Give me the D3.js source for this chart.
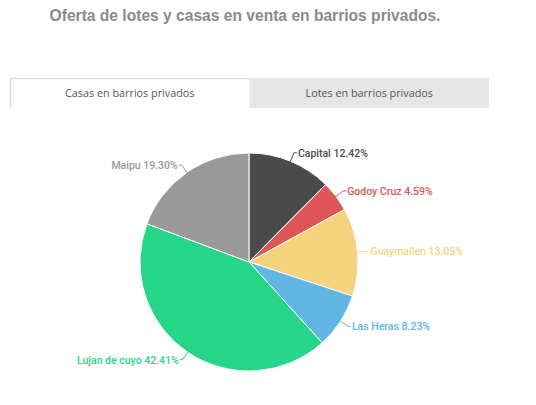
<!DOCTYPE html>
<html>
<head>
<meta charset="utf-8">
<script src="https://cdn.jsdelivr.net/npm/d3@7"></script>
<style>
  body { margin: 0; background: #fff; }
  svg { display: block; }
</style>
</head>
<body>
<script>
// data
var zonas = ["Capital", "Godoy Cruz", "Guaymallen", "Las Heras", "Lujan de cuyo", "Maipu"];
var porcentajes = [12.42, 4.59, 13.05, 8.23, 42.41, 19.30];
var colores = ["#4a4a4a", "#e05555", "#f3d47c", "#62b6e4", "#25d588", "#999999"];
var pestanas = ["Casas en barrios privados", "Lotes en barrios privados"];
var titulo = "Oferta de lotes y casas en venta en barrios privados.";

var width = 536, height = 405;

var svg = d3.select("body")
    .append("svg")
    .attr("width", width)
    .attr("height", height);

// title
svg.append("text")
    .attr("x", 245)
    .attr("y", 21)
    .attr("text-anchor", "middle")
    .style("font-family", "Liberation Sans, Arial, sans-serif")
    .style("font-weight", "bold")
    .style("font-size", "15.6px")
    .style("fill", "#8a8a8a")
    .text(titulo);

// tabs
var tabX = d3.scaleBand().domain(pestanas).range([10, 489]);
var tabs = svg.selectAll(".tab")
    .data(pestanas)
    .join("g")
    .attr("class", "tab");

tabs.append("rect")
    .attr("x", function(d) { return tabX(d); })
    .attr("y", 78)
    .attr("width", tabX.bandwidth())
    .attr("height", 30)
    .style("fill", function(d, i) { return i == 0 ? "#ffffff" : "#e6e6e6"; });

tabs.append("text")
    .attr("x", function(d) { return tabX(d) + tabX.bandwidth() / 2; })
    .attr("y", 97)
    .attr("text-anchor", "middle")
    .style("font-family", "Open Sans, sans-serif")
    .style("font-size", "10.8px")
    .style("fill", "#555")
    .text(function(d) { return d; });

// border around active tab (top, left)
svg.append("path")
    .attr("d", "M10.5,108 V78.5 H" + (tabX(pestanas[1])) )
    .style("fill", "none")
    .style("stroke", "#dddddd")
    .style("stroke-width", 1.5);

// pie
var cx = 249, cy = 262, r = 109;
var datos = zonas.map(function(z, i) { return { zona: z, valor: porcentajes[i], color: colores[i] }; });

var pie = d3.pie().sort(null).value(function(d) { return d.valor; });
var arc = d3.arc().innerRadius(0).outerRadius(r);
var arcos = pie(datos);

var g = svg.append("g").attr("transform", "translate(" + cx + "," + cy + ")");

g.selectAll("path.slice")
    .data(arcos)
    .join("path")
    .attr("class", "slice")
    .attr("d", arc)
    .style("fill", function(d) { return d.data.color; })
    .style("stroke", "#fff")
    .style("stroke-width", 1);

// labels with little leader lines
function punto(a, rad) {
    return [rad * Math.sin(a), -rad * Math.cos(a)];
}

g.selectAll("polyline")
    .data(arcos)
    .join("polyline")
    .attr("points", function(d) {
        var a = (d.startAngle + d.endAngle) / 2;
        var p0 = punto(a, r - 2), p1 = punto(a, r + 9);
        var lado = Math.sin(a) >= 0 ? 1 : -1;
        var p2 = [p1[0] + lado * 3, p1[1]];
        return [p0, p1, p2].join(" ");
    })
    .style("fill", "none")
    .style("stroke", function(d) { return d.data.color; })
    .style("stroke-width", 1);

g.selectAll("text.etiqueta")
    .data(arcos)
    .join("text")
    .attr("class", "etiqueta")
    .attr("x", function(d) {
        var a = (d.startAngle + d.endAngle) / 2;
        var p = punto(a, r + 9);
        return p[0] + (Math.sin(a) >= 0 ? 4 : -4);
    })
    .attr("y", function(d) {
        var a = (d.startAngle + d.endAngle) / 2;
        return punto(a, r + 9)[1] + 4;
    })
    .attr("text-anchor", function(d) {
        var a = (d.startAngle + d.endAngle) / 2;
        return Math.sin(a) >= 0 ? "start" : "end";
    })
    .style("font-family", "Roboto, sans-serif")
    .style("font-weight", "500")
    .style("font-size", "10.5px")
    .style("fill", function(d) { return d.data.color; })
    .text(function(d) { return d.data.zona + " " + d.data.valor.toFixed(2) + "%"; });
</script>
</body>
</html>
